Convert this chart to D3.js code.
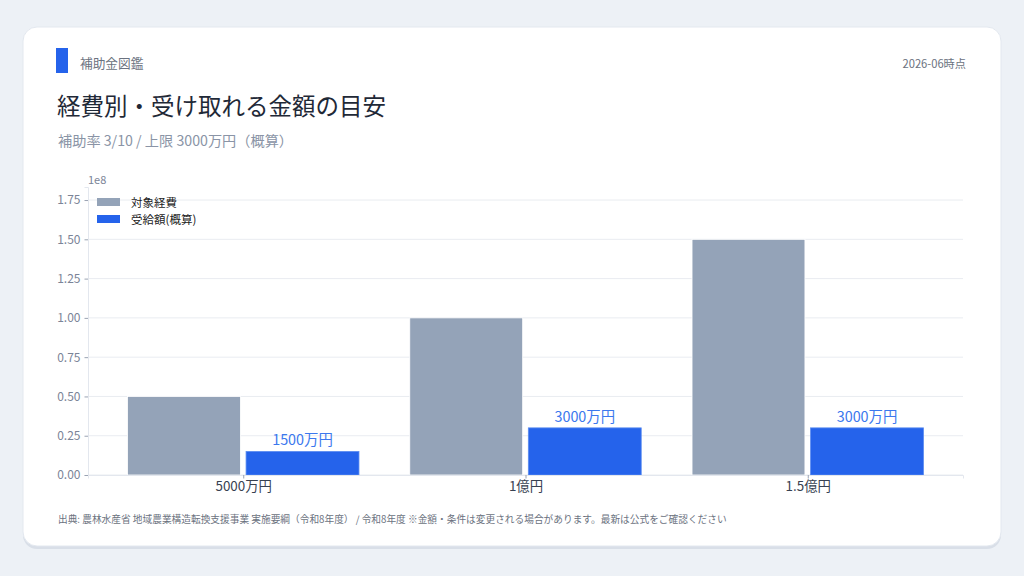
<!DOCTYPE html>
<html><head><meta charset="utf-8">
<script src="https://cdn.jsdelivr.net/npm/d3@7"></script>
<style>
html,body{margin:0;padding:0;background:#edf1f6;}
svg{display:block;font-family:"Noto Sans CJK JP","Noto Sans",sans-serif;}
</style></head>
<body>
<svg id="c" width="1024" height="576"></svg>
<script>
const categories = ["5000万円","1億円","1.5億円"];
const seriesNames = ["対象経費","受給額(概算)"];
const costValues = [50000000, 100000000, 150000000];
const grantValues = [15000000, 30000000, 30000000];
const grantLabels = ["1500万円","3000万円","3000万円"];
const yTicks = [0,0.25,0.5,0.75,1.0,1.25,1.5,1.75];
const colors = ["#94a3b8","#2563eb"];

const svg = d3.select("#c");
// card shadow + card
svg.append("rect").attr("x",23).attr("y",29).attr("width",978).attr("height",520).attr("rx",14).attr("fill","#d9dfe8");
svg.append("rect").attr("x",23).attr("y",27).attr("width",978).attr("height",519).attr("rx",14).attr("fill","#ffffff").attr("stroke","#e3e8ef");

// header
svg.append("rect").attr("x",56).attr("y",48).attr("width",12).attr("height",25).attr("fill","#2563eb");
svg.append("text").attr("x",80).attr("y",68).attr("font-size",12.7).attr("fill","#6b7280").text("補助金図鑑");
svg.append("text").attr("x",966).attr("y",67.5).attr("text-anchor","end").attr("font-size",11.2).attr("fill","#6b7280").text("2026-06時点");
svg.append("text").attr("x",57).attr("y",115).attr("font-size",23.5).attr("fill","#1f2937").text("経費別・受け取れる金額の目安");
svg.append("text").attr("x",58).attr("y",146).attr("font-size",14.2).attr("fill","#8a94a6").text("補助率 3/10 / 上限 3000万円（概算）");

// axes
const x0 = 88, x1 = 963, yBase = 475, yTop = 187;
const x = d3.scaleLinear().domain([-0.55, 2.55]).range([x0, x1]);
const y = d3.scaleLinear().domain([0, 1.833e8]).range([yBase, yTop]);
const bw = 0.4, off = 0.21;
const g = svg.append("g");

// gridlines
g.selectAll(".grid").data(yTicks).join("line")
  .attr("x1",x0).attr("x2",x1)
  .attr("y1",d=>y(d*1e8)).attr("y2",d=>y(d*1e8))
  .attr("stroke","#e9ecf1").attr("stroke-width",1);

// y axis
const yAxis = d3.axisLeft(y).tickValues(yTicks.map(d=>d*1e8)).tickFormat(d=>(d/1e8).toFixed(2)).tickSize(3.5).tickPadding(4);
const ya = svg.append("g").attr("transform",`translate(${x0},0)`).call(yAxis);
ya.select(".domain").attr("stroke","#e3e7ee");
ya.selectAll(".tick line").attr("stroke","#9aa3b2");
ya.selectAll(".tick text").attr("fill","#7b8497").attr("font-size",12).attr("font-family","'Noto Sans CJK JP',sans-serif");
svg.append("text").attr("x",88).attr("y",184).attr("font-size",11).attr("fill","#7b8497").text("1e8");

// bars
const data = categories.map((c,i)=>({i, cost:costValues[i], grant:grantValues[i], label:grantLabels[i]}));
g.selectAll(".cost").data(data).join("rect")
  .attr("x",d=>x(d.i-off-bw/2)).attr("width",d=>x(bw)-x(0))
  .attr("y",d=>y(d.cost)).attr("height",d=>yBase-y(d.cost))
  .attr("fill",colors[0]).attr("stroke","#ffffff").attr("stroke-width",0.8);
g.selectAll(".grant").data(data).join("rect")
  .attr("x",d=>x(d.i+off-bw/2)).attr("width",d=>x(bw)-x(0))
  .attr("y",d=>y(d.grant)).attr("height",d=>yBase-y(d.grant))
  .attr("fill",colors[1]).attr("stroke","#5b8cf0").attr("stroke-width",0.8);
g.selectAll(".lbl").data(data).join("text")
  .attr("x",d=>x(d.i+off)).attr("y",d=>y(d.grant)-6)
  .attr("text-anchor","middle").attr("font-size",14.4).attr("fill","#3b78ee").text(d=>d.label);

// x axis
const xa = svg.append("g").attr("transform",`translate(0,${yBase})`)
  .call(d3.axisBottom(x).tickValues([0,1,2]).tickFormat(i=>categories[i]).tickSize(3.5).tickPadding(3));
xa.select(".domain").attr("stroke","#e3e7ee");
xa.selectAll(".tick line").attr("stroke","#9aa3b2");
xa.selectAll(".tick text").attr("fill","#374151").attr("font-size",13.4).attr("font-family","'Noto Sans CJK JP',sans-serif");

// legend
const lg = svg.append("g");
seriesNames.forEach((n,i)=>{
  lg.append("rect").attr("x",97).attr("y",198+i*17).attr("width",23).attr("height",8).attr("fill",colors[i]);
  lg.append("text").attr("x",131).attr("y",206.5+i*17).attr("font-size",11.5).attr("fill","#222").text(n);
});

// footer
svg.append("text").attr("x",58).attr("y",523).attr("font-size",9.7).attr("fill","#6b7280")
  .text("出典: 農林水産省 地域農業構造転換支援事業 実施要綱（令和8年度） / 令和8年度 ※金額・条件は変更される場合があります。最新は公式をご確認ください");
</script>
</body></html>
